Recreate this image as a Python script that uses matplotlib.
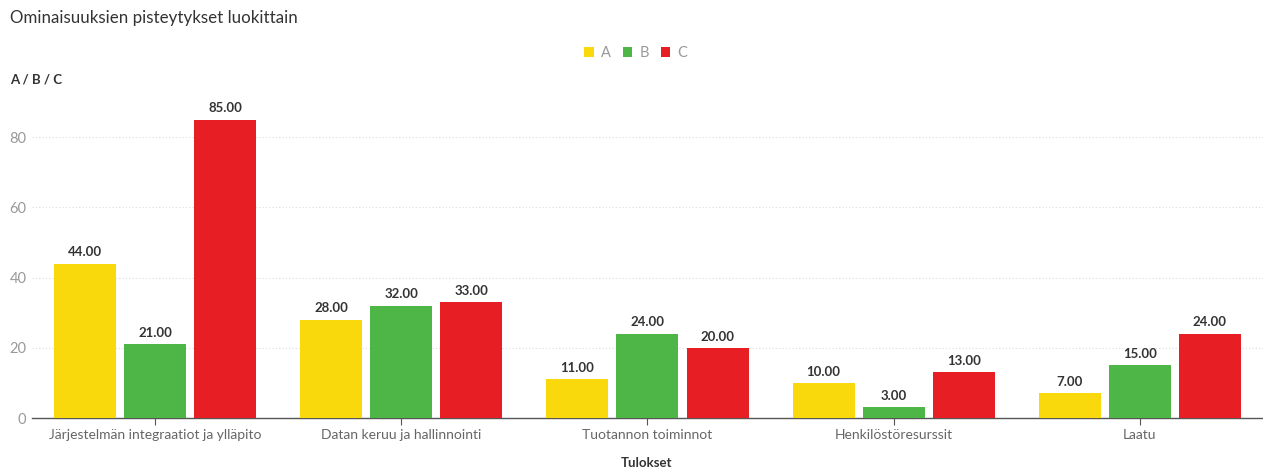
import matplotlib
matplotlib.use("Agg")
import matplotlib.pyplot as plt
from matplotlib.patches import Patch
import numpy as np

categories = ["Järjestelmän integraatiot ja ylläpito", "Datan keruu ja hallinnointi",
              "Tuotannon toiminnot", "Henkilöstöresurssit", "Laatu"]
series_names = ["A", "B", "C"]
A = [44, 28, 11, 10, 7]
B = [21, 32, 24, 3, 15]
C = [85, 33, 20, 13, 24]
yticks = [0, 20, 40, 60, 80]
colors = ["#F9D80C", "#4DB647", "#E81E25"]

plt.rcParams['font.family'] = ['Lato', 'DejaVu Sans']

fig = plt.figure(figsize=(12.63, 4.72), dpi=100)
ax = fig.add_axes([0.0253, 0.1144, 0.9747, 0.6695])

x = np.arange(len(categories))
w = 0.252
off = 0.2845
for i, (vals, c) in enumerate(zip([A, B, C], colors)):
    pos = x + (i - 1) * off
    ax.bar(pos, vals, width=w, color=c, zorder=3)
    for p, v in zip(pos, vals):
        ax.text(p, v + 1.5, f"{v:.2f}", ha="center", va="bottom", fontsize=9.5,
                fontweight="bold", color="#333333", zorder=4)

ax.set_xlim(-0.5, len(categories) - 0.5)
ax.set_ylim(0, 90)
ax.set_yticks(yticks)
ax.set_yticklabels([str(t) for t in yticks])
ax.set_xticks(x)
ax.set_xticklabels(categories)
ax.tick_params(axis="y", length=0, labelsize=10.5, labelcolor="#999999", pad=4)
ax.tick_params(axis="x", length=5, color="#555555", labelsize=10, labelcolor="#666666", pad=3)
ax.grid(axis="y", linestyle=(0, (1, 2)), color="#dddddd", linewidth=0.8, zorder=0)
for s in ["top", "right", "left"]:
    ax.spines[s].set_visible(False)
ax.spines["bottom"].set_color("#555555")
ax.spines["bottom"].set_linewidth(1.0)

fig.text(0.008, 0.962, "Ominaisuuksien pisteytykset luokittain", fontsize=12.2,
         color="#333333", va="center", ha="left")
fig.text(0.008, 0.831, "A / B / C", fontsize=9.5, fontweight="bold", color="#333333",
         va="center", ha="left")
fig.text(0.5118, 0.019, "Tulokset", fontsize=9.5, fontweight="bold", color="#333333",
         va="center", ha="center")

handles = [Patch(facecolor=c, edgecolor="none") for c in colors]
fig.legend(handles, series_names, loc="center", bbox_to_anchor=(0.5035, 0.888), ncol=3,
           frameon=False, fontsize=10.5, labelcolor="#999999", handlelength=0.65,
           handleheight=0.65, handletextpad=0.5, columnspacing=0.8)

fig.savefig("out.png", dpi=100)
